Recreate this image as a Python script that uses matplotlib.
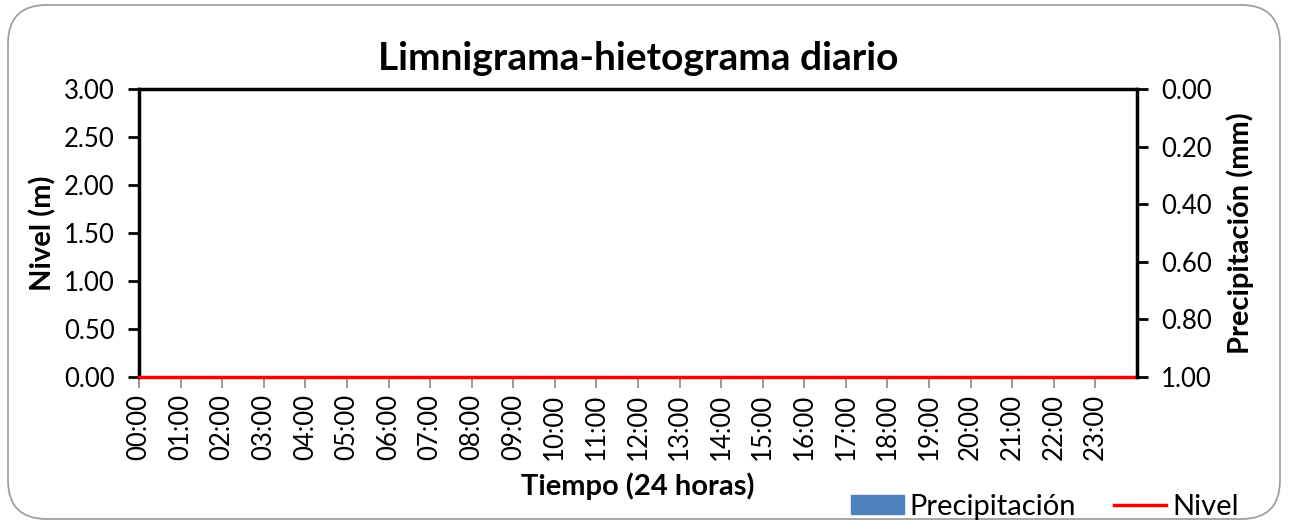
import matplotlib
matplotlib.use("Agg")
import matplotlib.pyplot as plt
from matplotlib.patches import FancyBboxPatch, Patch
from matplotlib.lines import Line2D
import numpy as np

plt.rcParams['font.family'] = ['Lato', 'DejaVu Sans']

hours = [f"{h:02d}:00" for h in range(24)]
nivel = [0.0] * 24
precipitacion = [0.0] * 24
nivel_ticks = [0.0, 0.5, 1.0, 1.5, 2.0, 2.5, 3.0]
precip_ticks = [0.0, 0.2, 0.4, 0.6, 0.8, 1.0]

fig = plt.figure(figsize=(12.89, 5.27), dpi=100)
W, H = 1289, 527
border = FancyBboxPatch((8 / W, 8 / H), (1280 - 8) / W, (522 - 8) / H,
                        boxstyle="round,pad=0,rounding_size=0.03",
                        transform=fig.transFigure, fill=False,
                        edgecolor="#a0a0a0", linewidth=1.3, mutation_aspect=W / H)
fig.patches.append(border)

left, right, top, bottom = 139, 1137, 89, 377
ax = fig.add_axes([left / W, 1 - bottom / H, (right - left) / W, (bottom - top) / H])
x = np.arange(24)
ax.set_xlim(0, 24)
ax.set_ylim(0, 3)
ax.plot(x.tolist() + [24], nivel + [nivel[-1]], color="#ff0000", lw=2.5, zorder=5, clip_on=False)
ax.set_yticks(nivel_ticks)
ax.set_yticklabels([f"{v:.2f}" for v in nivel_ticks], fontsize=18.5)
ax.set_xticks(x)
ax.set_xticklabels(hours, rotation=90, fontsize=18.5)
ax.tick_params(axis='x', length=8, color="#888888", width=1.2, pad=4)
ax.tick_params(axis='y', length=8, width=2, pad=9.5, direction='out')
for s in ['left', 'top']:
    ax.spines[s].set_linewidth(2.5)
ax.spines['bottom'].set_color("#888888")
ax.spines['right'].set_visible(False)
ax.set_ylabel("Nivel (m)", fontsize=21, fontweight='bold', labelpad=5)
ax.set_xlabel("Tiempo (24 horas)", fontsize=21, fontweight='bold', labelpad=9)
ax.set_title("Limnigrama-hietograma diario", fontsize=28, fontweight='bold', pad=14)

ax2 = ax.twinx()
ax2.bar(x + 0.5, precipitacion, width=0.8, color="#4f81bd")
ax2.set_ylim(1, 0)
ax2.set_yticks(precip_ticks)
ax2.set_yticklabels([f"{v:.2f}" for v in precip_ticks], fontsize=18.5)
ax2.tick_params(axis='y', length=8, width=2, pad=9.5)
ax2.spines['right'].set_linewidth(2.5)
for s in ['left', 'top', 'bottom']:
    ax2.spines[s].set_visible(False)
ax2.set_ylabel("Precipitación (mm)", fontsize=21, fontweight='bold', labelpad=10)

handles = [Patch(facecolor="#4f81bd", edgecolor="#4f81bd"),
           Line2D([0], [0], color="#ff0000", lw=2.5)]
fig.legend(handles, ["Precipitación", "Nivel"], loc='center', ncol=2,
           bbox_to_anchor=(1045 / W, 1 - 507 / H), frameon=False, fontsize=21,
           handlelength=1.8, handleheight=0.65, columnspacing=1.3, handletextpad=0.2,
           borderpad=0, borderaxespad=0)

fig.savefig("out.png", dpi=100)
